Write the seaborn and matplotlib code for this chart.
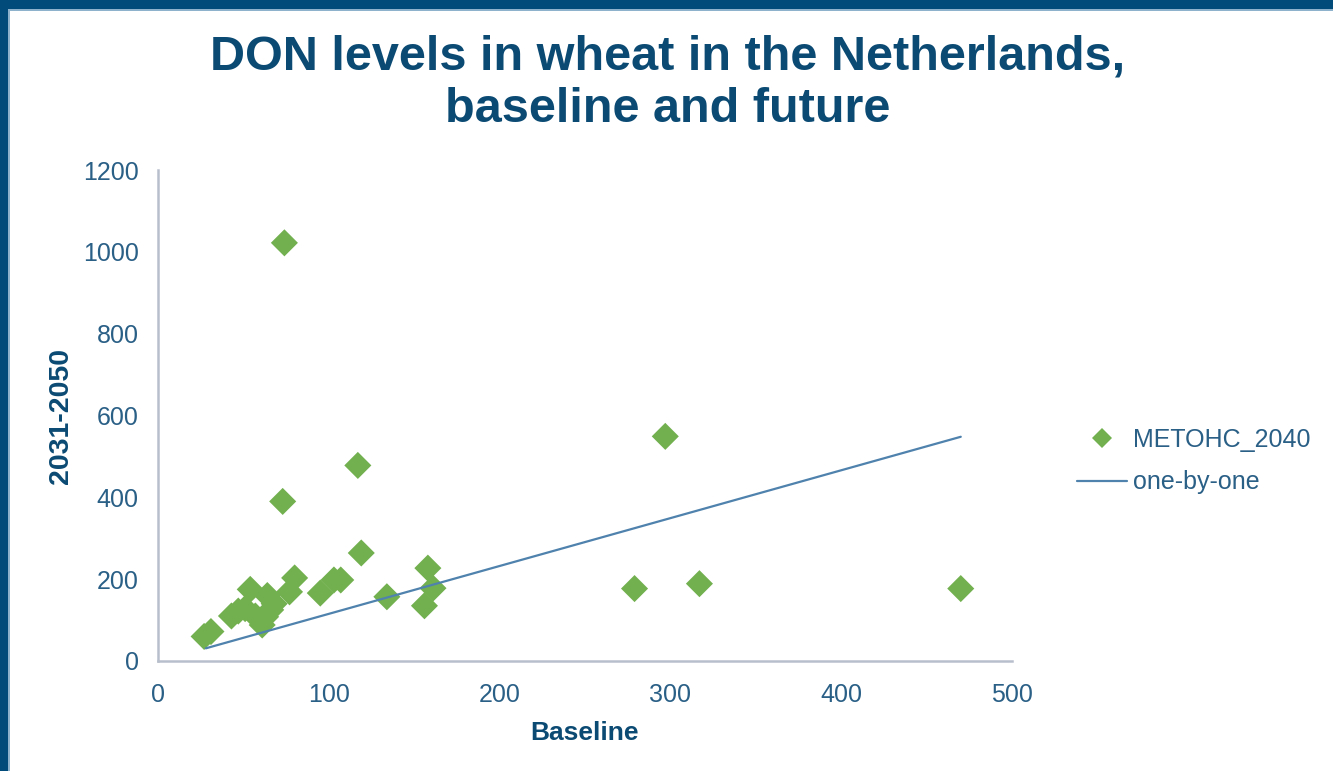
import matplotlib
matplotlib.use("Agg")
import matplotlib.pyplot as plt
from matplotlib.patches import Rectangle
from matplotlib.lines import Line2D
import seaborn as sns
import pandas as pd

# DON concentrations: baseline vs. 2031-2050 projection (METOHC_2040)
baseline = [27, 31, 43, 47, 51, 54, 57, 61, 63, 64, 66, 68, 74, 73, 77, 80,
            95, 103, 107, 117, 119, 134, 156, 158, 161, 279, 297, 317, 470]
future = [60, 72, 110, 122, 128, 175, 110, 88, 108, 160, 125, 140, 1022, 390,
          169, 203, 166, 198, 198, 478, 264, 157, 135, 227, 178, 177, 549, 189, 177]

# reference line
ref_x = [28, 470]
ref_y = [31, 548]

x_ticks = [0, 100, 200, 300, 400, 500]
y_ticks = [0, 200, 400, 600, 800, 1000, 1200]

series_name = "METOHC_2040"
line_name = "one-by-one"

sns.set_theme(style="white")
plt.rcParams["font.family"] = ["Liberation Sans", "DejaVu Sans"]

DARK = "#0b4a73"
TICK = "#2a5f86"
GREEN = "#72b04f"
LINE = "#4f82ad"
SPINE = "#b8bfcc"

fig = plt.figure(figsize=(13.33, 7.71), dpi=100)
fig.patch.set_facecolor("white")
ax = fig.add_axes([158 / 1333, 1 - 661 / 771, (1012 - 158) / 1333, (661 - 170) / 771])

pts = pd.DataFrame({"Baseline": baseline, "2031-2050": future})
ref = pd.DataFrame({"x": ref_x, "y": ref_y})

sns.lineplot(data=ref, x="x", y="y", ax=ax, color=LINE, linewidth=1.6, zorder=3)
sns.scatterplot(data=pts, x="Baseline", y="2031-2050", ax=ax, marker="D",
                color=GREEN, s=190, edgecolor="none", zorder=2)

ax.set_xlim(0, 500)
ax.set_ylim(0, 1200)
ax.set_xticks(x_ticks)
ax.set_yticks(y_ticks)
ax.set_xticklabels([str(t) for t in x_ticks])
ax.set_yticklabels([str(t) for t in y_ticks])

for side in ("top", "right"):
    ax.spines[side].set_visible(False)
for side in ("left", "bottom"):
    ax.spines[side].set_color(SPINE)
    ax.spines[side].set_linewidth(1.8)

ax.tick_params(axis="both", which="major", length=6, width=1.5, color=SPINE,
               labelsize=18, labelcolor=TICK, direction="out")
ax.tick_params(axis="x", pad=10)
ax.tick_params(axis="y", pad=8)

ax.set_xlabel("Baseline", fontsize=19, fontweight="bold", color=DARK, labelpad=10)
ax.set_ylabel("2031-2050", fontsize=20.5, fontweight="bold", color=DARK, labelpad=6)

fig.text(668 / 1333, 1 - 83 / 771, "DON levels in wheat in the Netherlands,\nbaseline and future",
         ha="center", va="center", fontsize=35, fontweight="bold", color=DARK,
         linespacing=1.22)

handles = [
    Line2D([], [], marker="D", color=GREEN, linestyle="none", markersize=10,
           markeredgewidth=0),
    Line2D([], [], color=LINE, linewidth=1.6),
]
leg = fig.legend(handles, [series_name, line_name], loc="center left",
                 bbox_to_anchor=(1069 / 1333, 1 - 461 / 771), frameon=False,
                 fontsize=18, handlelength=2.0, handletextpad=0.25,
                 labelspacing=0.75, borderaxespad=0, borderpad=0.3)
for t in leg.get_texts():
    t.set_color(TICK)

# frame bars along the top and left edges
fig.patches.append(Rectangle((0, 1 - 9 / 771), 1, 9 / 771, transform=fig.transFigure,
                             facecolor="#014b7b", edgecolor="none", zorder=10))
fig.patches.append(Rectangle((0, 1 - 11 / 771), 1, 2 / 771, transform=fig.transFigure,
                             facecolor="#8fb2cc", edgecolor="none", zorder=10))
fig.patches.append(Rectangle((0, 0), 8 / 1333, 1, transform=fig.transFigure,
                             facecolor="#014b7b", edgecolor="none", zorder=11))
fig.patches.append(Rectangle((8 / 1333, 0), 2 / 1333, 1 - 9 / 771, transform=fig.transFigure,
                             facecolor="#8fb2cc", edgecolor="none", zorder=11))

fig.savefig("out.png", dpi=100, facecolor="white")
